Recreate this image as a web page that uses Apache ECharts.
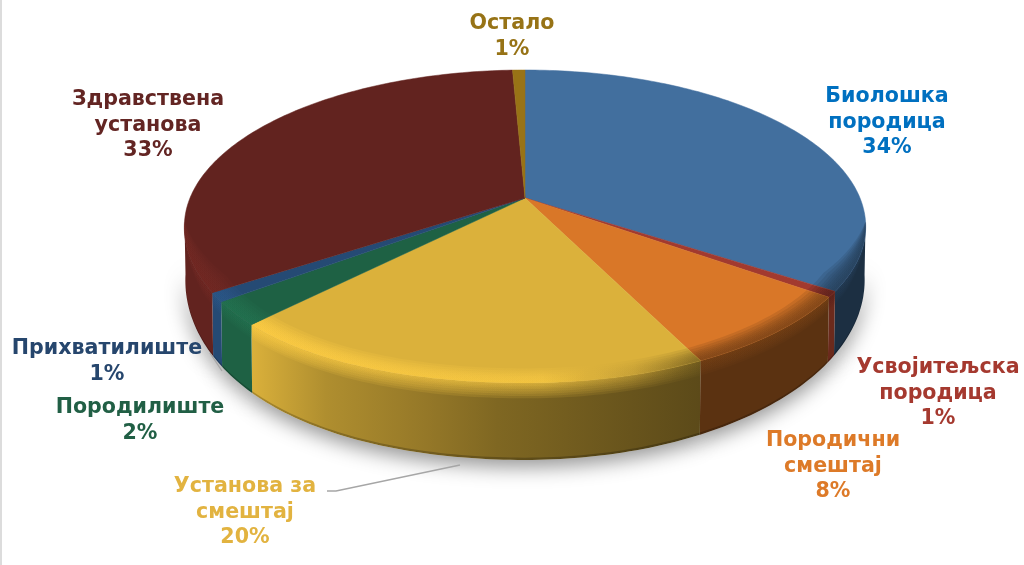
<!DOCTYPE html>
<html>
<head>
<meta charset="utf-8">
<title>pie</title>
<script src="https://cdn.jsdelivr.net/npm/echarts@6/dist/echarts.min.js"></script>
<style>
html,body{margin:0;padding:0;background:#fff;}
#main{width:1024px;height:565px;}
</style>
</head>
<body>
<div id="main"></div>
<script>
// values, labels show them rounded
var names = ['Биолошка\nпородица', 'Усвојитељска\nпородица', 'Породични\nсмештај', 'Установа за\nсмештај', 'Породилиште', 'Прихватилиште', 'Здравствена\nустанова', 'Остало'];
var values = [34.3, 0.6, 7.8, 19.8, 2.4, 0.9, 33.3, 0.7];

var sliceColors = ['#426f9e', '#a23a2f', '#d97728', '#dbb13b', '#1e6144', '#254a74', '#62231f', '#987316'];
var wallColors = ['#426f9e', '#ff6543', '#d97728', '#dbb13b', '#1e6144', '#254a74', '#62231f', '#987316'];
var textColors = ['#0070c0', '#a5392f', '#dd7a28', '#e2b340', '#215f45', '#26466d', '#632523', '#977316'];
// centre of the first text line of each label
var labelPos = [[887, 95], [938, 366], [833, 439], [245, 485], [140, 406], [107, 347], [148, 98], [512, 22]];
var leaders = {
    3: [[327, 491], [336, 491], [460, 465]],
    5: [[210, 353], [222, 371]]
};

// perspective of the tilted disc
var cx = 525, cy = 198, A = 151.3, B = 335, k = 0.182;

var total = values.reduce(function (a, b) { return a + b; }, 0);
var starts = [];
values.reduce(function (sum, v, i) { starts[i] = sum / total * 360; return sum + v; }, 0);

function facePoint(deg, r) {
    var t = deg * Math.PI / 180;
    var x = Math.sin(t) * r, y = Math.cos(t) * r, w = 1 + k * y;
    // the front left of the disc hangs a little lower in the picture
    var droop = (deg > 180 && deg < 270) ? 5 * Math.pow(Math.sin((deg - 180) * 2 * Math.PI / 180), 2) * r : 0;
    return [cx + B * x / w, cy - A * y / w + droop];
}
// point on the wall, d = 0 at the top rim, d = 1 at the lower rim
function wallPoint(deg, d) {
    var p = facePoint(deg, 1);
    var depth = 48 - 29 * Math.cos(deg * Math.PI / 180);
    return [cx + (p[0] - cx) * (1 - 0.003 * d), p[1] + depth * d];
}
function steps(i) {
    var a0 = starts[i], a1 = a0 + values[i] / total * 360, list = [];
    for (var a = a0; a < a1; a += 1) { list.push(a); }
    list.push(a1);
    return list;
}
// only the part of the rim that faces the viewer
function frontSteps(i) {
    return steps(i).filter(function (a) { return Math.cos(a * Math.PI / 180) < -0.15; });
}
function band(list, f0, f1) {
    var pts = list.map(f0);
    return pts.concat(list.slice().reverse().map(f1));
}
function shade(hex, f) {
    var n = parseInt(hex.slice(1), 16);
    var c = [n >> 16, (n >> 8) & 255, n & 255].map(function (v) { return Math.min(255, Math.round(v * f)); });
    return 'rgb(' + c.join(',') + ')';
}
function ramp(hex, stops) {
    return new echarts.graphic.LinearGradient(250, 0, 700, 0, stops.map(function (s) {
        return { offset: s[0], color: shade(hex, s[1]) };
    }), true);
}
var wallStops = [[0, 1], [0.17, 0.8], [0.39, 0.68], [0.55, 0.58], [1, 0.42]];
var rimStops = [[0, 1.16], [0.65, 1.12], [0.85, 0.9], [1, 0.55]];
// nested soft edges, each one adds a thin veil
var faceSoft = [0.935, 0.945, 0.955, 0.962, 0.969, 0.976, 0.983, 0.99];
var wallSoft = [0.2, 0.17, 0.14, 0.11, 0.08, 0.06, 0.04, 0.02];

// bevel fades out towards the sides of the disc
function taper(deg) {
    return Math.max(0, Math.min(1, (-Math.cos(deg * Math.PI / 180) - 0.15) * 3));
}

function renderShadow(params) {
    var list = frontSteps(params.dataIndex);
    if (list.length < 2) { return; }
    return {
        type: 'polygon',
        shape: { points: band(list, function (a) { return wallPoint(a, 0.5); }, function (a) { return wallPoint(a, 1); }) },
        style: { fill: '#fff', shadowBlur: 20, shadowOffsetY: 7, shadowColor: 'rgba(0,0,0,0.42)' }
    };
}

function renderWall(params) {
    var i = params.dataIndex, list = frontSteps(i), hex = wallColors[i];
    if (list.length < 2) { return; }
    var kids = [{
        type: 'polygon',
        shape: { points: band(list, function (a) { return wallPoint(a, 0); }, function (a) { return wallPoint(a, 1); }) },
        style: { fill: ramp(hex, wallStops) }
    }, {
        type: 'polygon',
        shape: { points: band(list, function (a) { return wallPoint(a, 0.97); }, function (a) { return wallPoint(a, 1); }) },
        style: { fill: 'rgba(0,0,0,0.22)' }
    }];
    wallSoft.forEach(function (d) {
        kids.push({
            type: 'polygon',
            shape: { points: band(list, function (a) { return wallPoint(a, 0); }, function (a) { return wallPoint(a, d * taper(a)); }) },
            style: { fill: ramp(sliceColors[i], rimStops), opacity: 0.14 }
        });
    });
    return { type: 'group', children: kids };
}

function renderFace(params) {
    var i = params.dataIndex, list = steps(i), hex = sliceColors[i];
    var kids = [{
        type: 'polygon',
        shape: { points: [[cx, cy]].concat(list.map(function (a) { return facePoint(a, 1); })) },
        style: { fill: hex, stroke: hex, lineWidth: 0.5 }
    }];
    var front = frontSteps(i);
    if (front.length > 1) {
        faceSoft.forEach(function (r) {
            kids.push({
                type: 'polygon',
                shape: { points: band(front, function (a) { return facePoint(a, 1 - (1 - r) * taper(a)); }, function (a) { return facePoint(a, 1); }) },
                style: { fill: ramp(hex, rimStops), opacity: 0.2 }
            });
        });
    }
    return { type: 'group', children: kids };
}

function renderLabel(params, api) {
    var i = params.dataIndex, p = labelPos[i];
    var kids = [{
        type: 'text',
        style: {
            text: names[i] + '\n' + Math.round(api.value(0)) + '%',
            x: p[0], y: p[1] - 11,
            fill: textColors[i],
            font: 'bold 20.6px "DejaVu Sans"',
            textAlign: 'center',
            textVerticalAlign: 'top',
            lineHeight: 25.5
        }
    }];
    if (leaders[i]) {
        kids.push({
            type: 'polyline',
            shape: { points: leaders[i] },
            style: { stroke: '#a6a6a6', lineWidth: 1.3, fill: null }
        });
    }
    return { type: 'group', children: kids };
}

function layer(fn, z) {
    return { type: 'custom', coordinateSystem: 'none', data: values, renderItem: fn, z: z, silent: true, animation: false };
}

var myChart = echarts.init(document.getElementById('main'));
var option = {
    backgroundColor: '#fff',
    animation: false,
    graphic: [{
        type: 'rect',
        shape: { x: 0, y: 0, width: 2, height: 565 },
        style: { fill: '#dcdcdc' }
    }],
    series: [
        layer(renderShadow, 1),
        layer(renderWall, 2),
        layer(renderFace, 3),
        layer(renderLabel, 4)
    ]
};
myChart.setOption(option);
</script>
</body>
</html>
